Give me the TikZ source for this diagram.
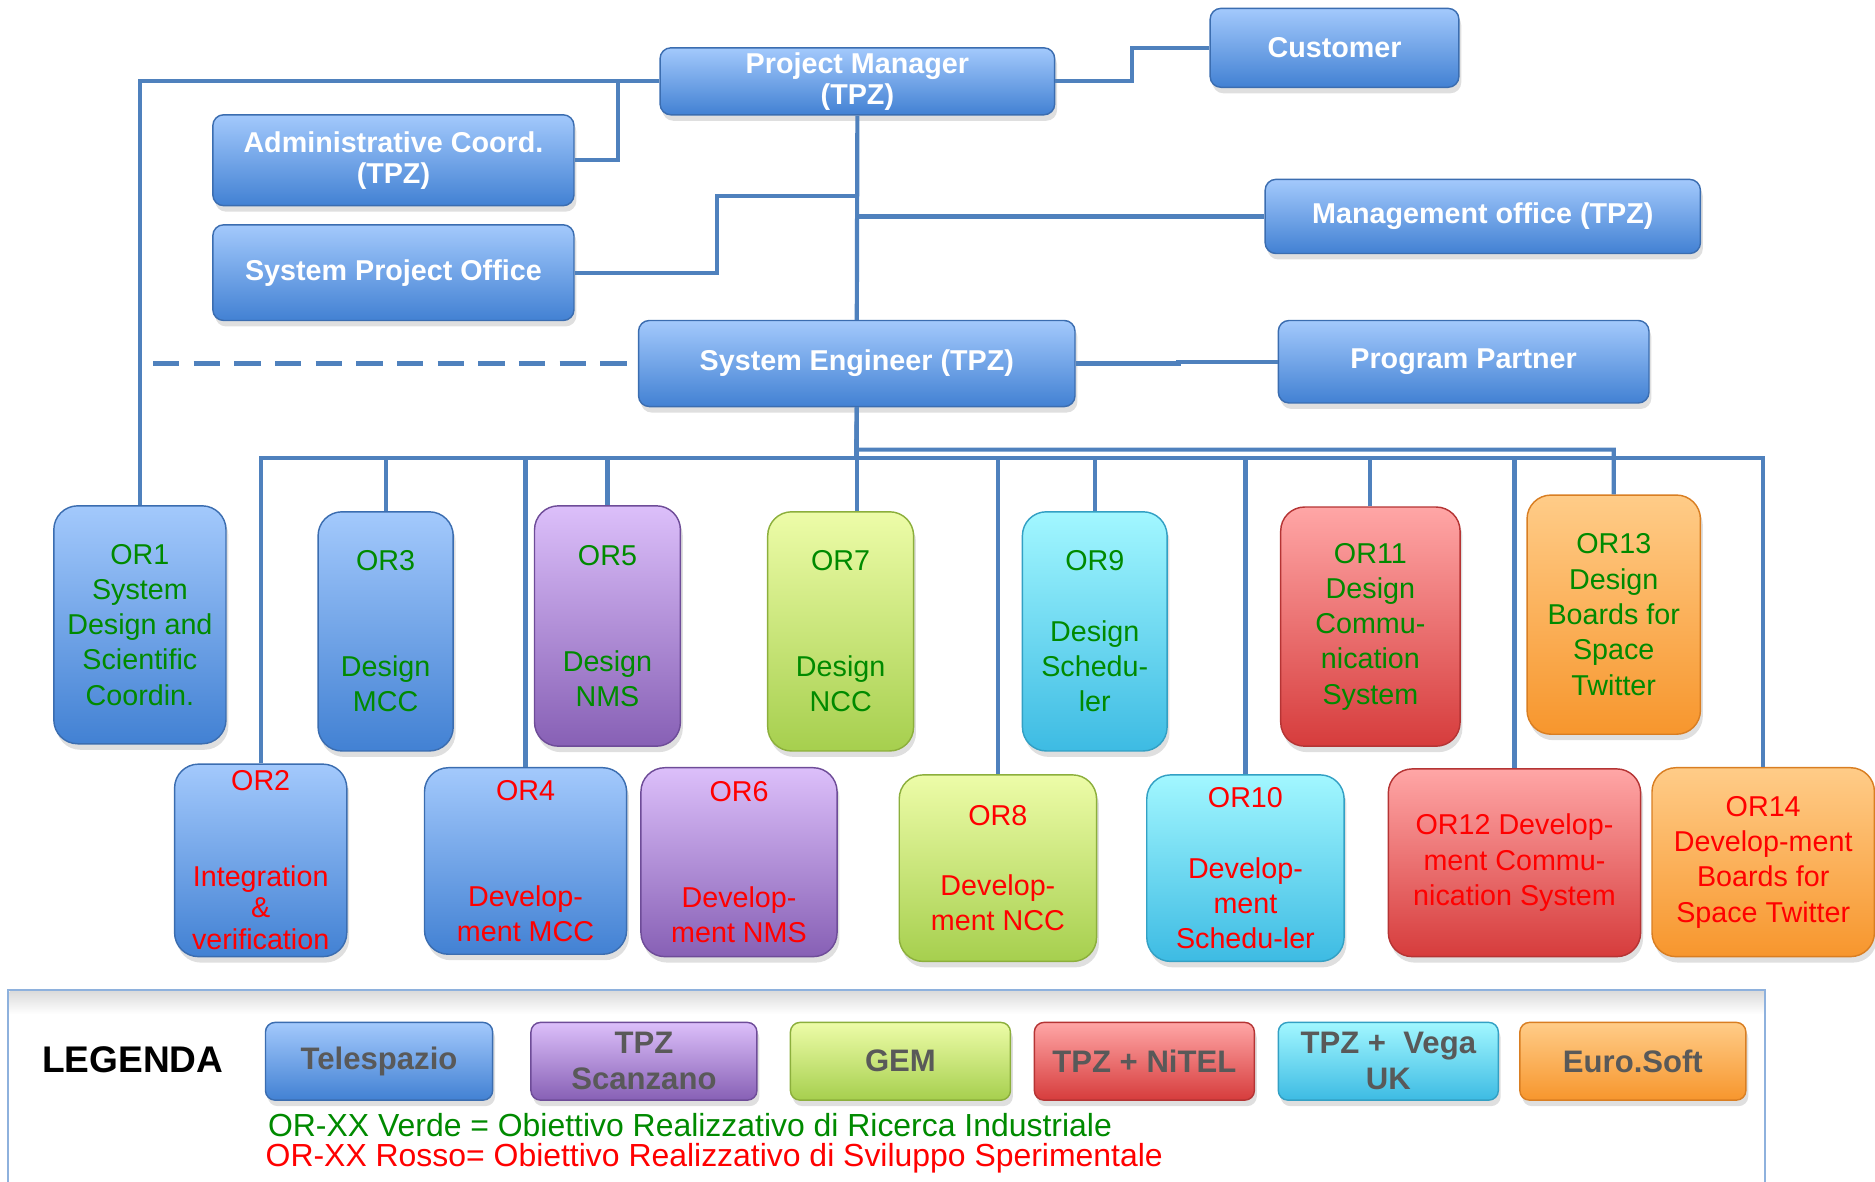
\documentclass[tikz,border=0pt]{standalone}
\usepackage{fontspec}
\setmainfont{Liberation Sans}
\usetikzlibrary{calc,shadows}
\definecolor{LnBlue}{HTML}{4F81BD}
\definecolor{BlTop}{HTML}{A3C9FC}
\definecolor{BlBot}{HTML}{4281D3}
\definecolor{BlEdge}{HTML}{3B6DB0}
\definecolor{PuTop}{HTML}{DCBFFA}
\definecolor{PuBot}{HTML}{8760B5}
\definecolor{PuEdge}{HTML}{6E4C98}
\definecolor{GrTop}{HTML}{EDFCA8}
\definecolor{GrBot}{HTML}{A6CF4E}
\definecolor{GrEdge}{HTML}{8CAF3C}
\definecolor{CyTop}{HTML}{A2F7FF}
\definecolor{CyBot}{HTML}{3DBBE3}
\definecolor{CyEdge}{HTML}{33A0C4}
\definecolor{RdTop}{HTML}{FFA6A6}
\definecolor{RdBot}{HTML}{D63C3C}
\definecolor{RdEdge}{HTML}{B53434}
\definecolor{OrTop}{HTML}{FFCC88}
\definecolor{OrBot}{HTML}{F7962D}
\definecolor{OrEdge}{HTML}{D97E22}
\definecolor{TxGreen}{HTML}{008A00}
\definecolor{TxRed}{HTML}{FF0000}
\definecolor{TxGray}{HTML}{595959}
\definecolor{FrameBlue}{HTML}{8EB1DD}

\begin{document}
\begin{tikzpicture}[
  x=1pt, y=-1pt,
  base/.style={line width=1.2pt, align=center, inner sep=0pt, drop shadow={shadow xshift=2pt, shadow yshift=-5pt, opacity=0.25}},
  tpz/.style={top color=BlTop, bottom color=BlBot, draw=BlEdge},
  scanzano/.style={top color=PuTop, bottom color=PuBot, draw=PuEdge},
  gem/.style={top color=GrTop, bottom color=GrBot, draw=GrEdge},
  nitel/.style={top color=RdTop, bottom color=RdBot, draw=RdEdge},
  vega/.style={top color=CyTop, bottom color=CyBot, draw=CyEdge},
  eurosoft/.style={top color=OrTop, bottom color=OrBot, draw=OrEdge},
  topbox/.style={base, tpz, rounded corners=9pt, text=white, font=\bfseries\fontsize{24}{26}\selectfont},
  orbox/.style={base, rounded corners=20pt, font=\fontsize{24}{29.5}\selectfont},
  ri/.style={text=TxGreen},
  ss/.style={text=TxRed},
  legbox/.style={base, rounded corners=8pt, minimum height=65pt, text=TxGray, font=\bfseries\fontsize{26}{30}\selectfont},
  link/.style={draw=LnBlue, line width=3.5pt}
]
\useasboundingbox (0,0) rectangle (1568,988);

\node[topbox, minimum width=330pt, minimum height=56pt] (pm) at (717,68) {Project Manager\\(TPZ)};
\node[topbox, minimum width=208pt, minimum height=66pt] (cust) at (1116,40) {Customer};
\node[topbox, minimum width=302pt, minimum height=76pt] (adm) at (329,134) {Administrative Coord.\\(TPZ)};
\node[topbox, minimum width=302pt, minimum height=80pt] (spo) at (329,228) {System Project Office};
\node[topbox, minimum width=364pt, minimum height=62pt] (mgmt) at (1240,181) {Management office (TPZ)};
\node[topbox, minimum width=365pt, minimum height=72pt] (se) at (716.5,304) {System Engineer (TPZ)};
\node[topbox, minimum width=310pt, minimum height=69pt] (pp) at (1224,302.5) {Program Partner};

\node[orbox, tpz, ri, minimum width=144pt, minimum height=199pt] (or1) at (117,522.5) {OR1\\System\\Design and\\Scientific\\Coordin.};
\node[orbox, tpz, ri, minimum width=113pt, minimum height=200pt] (or3) at (322.5,528) {OR3\\[59pt]Design\\MCC};
\node[orbox, scanzano, ri, minimum width=122pt, minimum height=201pt] (or5) at (508,523.5) {OR5\\[59pt]Design\\NMS};
\node[orbox, gem, ri, minimum width=122pt, minimum height=200pt] (or7) at (703,528) {OR7\\[59pt]Design\\NCC};
\node[orbox, vega, ri, minimum width=121pt, minimum height=200pt] (or9) at (915.5,528) {OR9\\[29.5pt]Design\\Schedu-\\ler};
\node[orbox, nitel, ri, minimum width=150pt, minimum height=200pt] (or11) at (1146,524) {OR11\\Design\\Commu-\\nication\\System};
\node[orbox, eurosoft, ri, minimum width=145pt, minimum height=200pt] (or13) at (1349.5,514) {OR13\\Design\\Boards for\\Space\\Twitter};

\node[orbox, tpz, ss, minimum width=144pt, minimum height=161pt, font=\fontsize{24}{26.6}\selectfont] (or2) at (218,719.5) {OR2\\[53pt]Integration\\\&\\verification};
\node[orbox, tpz, ss, minimum width=169pt, minimum height=156pt] (or4) at (439.5,720) {OR4\\[59pt]Develop-\\ment MCC};
\node[orbox, scanzano, ss, minimum width=164pt, minimum height=158pt] (or6) at (618,721) {OR6\\[59pt]Develop-\\ment NMS};
\node[orbox, gem, ss, minimum width=165pt, minimum height=156pt] (or8) at (834.5,726) {OR8\\[29.5pt]Develop-\\ment NCC};
\node[orbox, vega, ss, minimum width=165pt, minimum height=156pt] (or10) at (1041.5,726) {OR10\\[29.5pt]Develop-\\ment\\Schedu-ler};
\node[orbox, nitel, ss, minimum width=211pt, minimum height=157pt] (or12) at (1266.5,721.5) {OR12 Develop-\\ment Commu-\\nication System};
\node[orbox, eurosoft, ss, minimum width=186pt, minimum height=158pt] (or14) at (1474.5,721) {OR14\\Develop-ment\\Boards for\\Space Twitter};

\coordinate (bus) at (716,383);
\coordinate (bus2) at (716,376);
\coordinate (dashend) at (128,304);
\draw[link] (pm.west) -| (or1.north);
\draw[link] (adm.east) -- ++(36,0) |- (pm.west);
\draw[link] (pm.south) -- (se.north);
\draw[link] (spo.east) -- ++(119,0) |- ($(pm.south)+(0,67)$);
\draw[link] (mgmt.west) -- (mgmt.west -| pm.south);
\draw[link] (pm.east) -- ++(64,0) |- (cust.west);
\draw[link] (se.east) -- ++(86,0) |- (pp.west);
\draw[link, dash pattern=on 22pt off 12pt] (dashend) -- (se.west);
\draw[link] (se.south) -- (bus);
\draw[link] (or2.north) |- (bus) -| (or14.north);
\draw[link] (se.south) -- (bus2) -| (or13.north);
\draw[link] (se.south) -- (se.south |- or7.north);
\draw[link] ($(or6.north)+(-15,0)$) -- ($(or6.north)+(-15,0)$ |- bus);
\foreach \n in {or3,or4,or5,or8,or9,or10,or11,or12}
  \draw[link] (\n.north) -- (\n.north |- bus);

\shade[top color=black!14, bottom color=white] (8,829) rectangle (1475,848);
\draw[FrameBlue, line width=1.5pt] (7,1000) |- (1476,828) -- (1476,1000);
\node[font=\bfseries\fontsize{31}{34}\selectfont] (leg) at (111,886) {LEGENDA};
\node[legbox, tpz, minimum width=190pt] (ltel) at (317,887.5) {Telespazio};
\node[legbox, scanzano, minimum width=189pt] (lscz) at (538.5,887.5) {TPZ\\Scanzano};
\node[legbox, gem, minimum width=184pt] (lgem) at (753,887.5) {GEM};
\node[legbox, nitel, minimum width=184pt] (lnit) at (957,887.5) {TPZ + NiTEL};
\node[legbox, vega, minimum width=184pt] (lvega) at (1161,887.5) {TPZ +\ \ Vega\\UK};
\node[legbox, eurosoft, minimum width=189pt] (leuro) at (1365.5,887.5) {Euro.Soft};
\node[anchor=west, inner sep=0pt, text=TxGreen, font=\fontsize{26.7}{30}\selectfont] (noteri) at (224,941) {OR-XX Verde = Obiettivo Realizzativo di Ricerca Industriale};
\node[anchor=west, inner sep=0pt, text=TxRed, font=\fontsize{26.7}{30}\selectfont] (notess) at (222,969) {OR-XX Rosso= Obiettivo Realizzativo di Sviluppo Sperimentale};
\end{tikzpicture}
\end{document}
